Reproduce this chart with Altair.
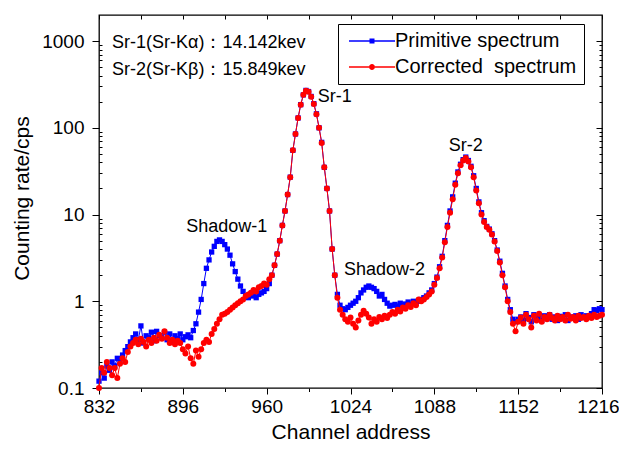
import altair as alt
import pandas as pd

FONT = "Liberation Sans"

channels = list(range(832, 1217, 2))

primitive = [
    0.12, 0.15, 0.13, 0.18, 0.16, 0.20, 0.18, 0.22, 0.20, 0.24,
    0.27, 0.30, 0.34, 0.38, 0.42, 0.36, 0.52, 0.33, 0.40, 0.38,
    0.44, 0.35, 0.45, 0.40, 0.38, 0.44, 0.36, 0.42, 0.34, 0.40,
    0.37, 0.42, 0.36, 0.39, 0.41, 0.38, 0.46, 0.55, 0.75, 1.05,
    1.6, 2.4, 3.0, 3.7, 4.3, 4.9, 5.1, 4.9, 4.5, 4.0,
    3.4, 2.7, 2.2, 1.8, 1.5, 1.3, 1.15, 1.1, 1.2, 1.15,
    1.1, 1.2, 1.25, 1.3, 1.4, 1.6, 2.0, 2.6, 3.5, 5.0,
    7.5, 11, 17, 27, 55, 85, 130, 185, 240, 270,
    262, 230, 190, 145, 100, 68, 35, 20, 11, 4.0,
    2.0, 1.2, 0.9, 0.82, 0.8, 0.85, 0.9, 0.95, 1.0, 1.1,
    1.25, 1.35, 1.45, 1.5, 1.45, 1.4, 1.3, 1.15, 1.2, 1.05,
    0.95, 0.88, 0.9, 0.92, 0.88, 0.95, 0.9, 0.93, 0.98, 0.92,
    1.0, 0.95, 1.0, 1.05, 1.1, 1.15, 1.25, 1.35, 1.6, 1.9,
    2.5, 3.3, 5.0, 7.5, 11, 16, 23, 31, 38, 43,
    46, 42, 36, 28, 20, 14, 10.5, 8.5, 7.3, 6.8,
    6.0, 5.0, 3.9, 2.9, 2.1, 1.5, 1.05, 0.8, 0.62, 0.58,
    0.62, 0.66, 0.6, 0.72, 0.65, 0.58, 0.7, 0.62, 0.66, 0.6,
    0.68, 0.64, 0.7, 0.62, 0.66, 0.6, 0.67, 0.63, 0.7, 0.6,
    0.66, 0.64, 0.68, 0.62, 0.7, 0.65, 0.68, 0.66, 0.72, 0.8,
    0.78, 0.82, 0.8,
]

corrected = [
    0.10, 0.17, 0.15, 0.20, 0.17, 0.14, 0.17, 0.13, 0.19, 0.22,
    0.20, 0.26, 0.30, 0.33, 0.36, 0.32, 0.37, 0.34, 0.30, 0.36,
    0.33, 0.38, 0.35, 0.41, 0.37, 0.45, 0.38, 0.33, 0.36, 0.32,
    0.35, 0.33, 0.28, 0.25, 0.30, 0.22, 0.19, 0.27, 0.23, 0.28,
    0.33, 0.36, 0.34, 0.42, 0.48, 0.55, 0.62, 0.70, 0.72, 0.75,
    0.80, 0.85, 0.90, 0.95, 1.00, 1.05, 1.15, 1.20, 1.25, 1.35,
    1.30, 1.45, 1.50, 1.60, 1.55, 1.80, 2.0, 2.6, 3.5, 5.0,
    7.5, 11, 17, 27, 55, 85, 130, 185, 240, 268,
    260, 228, 188, 143, 100, 67, 35, 20, 11, 4.0,
    2.0, 1.1, 0.8, 0.7, 0.62, 0.58, 0.65, 0.55, 0.5, 0.6,
    0.7, 0.78, 0.72, 0.65, 0.55, 0.62, 0.58, 0.66, 0.62, 0.68,
    0.64, 0.7, 0.75, 0.72, 0.8, 0.76, 0.85, 0.82, 0.9, 0.86,
    0.95, 0.9, 1.05, 1.0, 1.05, 1.12, 1.2, 1.3, 1.55, 1.85,
    2.4, 3.2, 4.8, 7.2, 10.5, 15, 22, 30, 37, 42,
    45, 41, 35, 27, 19, 13.5, 10, 8.2, 7.2, 6.7,
    5.9, 4.9, 3.8, 2.8, 2.0, 1.45, 1.0, 0.75, 0.55, 0.45,
    0.58, 0.65, 0.55, 0.7, 0.62, 0.5, 0.68, 0.6, 0.72, 0.58,
    0.66, 0.62, 0.7, 0.64, 0.6, 0.68, 0.62, 0.66, 0.6, 0.7,
    0.63, 0.66, 0.6, 0.68, 0.64, 0.66, 0.62, 0.68, 0.64, 0.7,
    0.66, 0.68, 0.7,
]

assert len(channels) == len(primitive) == len(corrected)

series_names = ["Primitive spectrum", "Corrected\u00a0 spectrum"]
series_colors = ["#0000ff", "#ff0000"]

x_major = [832, 896, 960, 1024, 1088, 1152, 1216]
x_minor = [864, 928, 992, 1056, 1120, 1184]
x_top = list(range(832, 1217, 32))
y_major = [0.1, 1, 10, 100, 1000]
y_minor = [m * d for d in [0.1, 1, 10, 100] for m in range(2, 10)]

# annotations
ann_left_text = ["Sr-1(Sr-K\u03b1)\uff1a14.142kev", "Sr-2(Sr-K\u03b2)\uff1a15.849kev", "Sr-1"]
ann_left_ch = [842, 842, 999]
ann_left_val = [950, 460, 225]
ann_center_text = ["Sr-2", "Shadow-1", "Shadow-2"]
ann_center_ch = [1112, 929.5, 1050]
ann_center_val = [61, 7.2, 2.3]

df = pd.DataFrame({
    "channel": channels * 2,
    "rate": primitive + corrected,
    "series": [series_names[0]] * len(channels) + [series_names[1]] * len(channels),
})
ann_left = pd.DataFrame({"text": ann_left_text, "channel": ann_left_ch, "rate": ann_left_val})
ann_center = pd.DataFrame({"text": ann_center_text, "channel": ann_center_ch, "rate": ann_center_val})

xscale = alt.Scale(domain=[832, 1216], nice=False, zero=False)
yscale = alt.Scale(type="log", domain=[0.1, 2000], nice=False)

common_axis = dict(domain=False, grid=False, tickColor="black", tickWidth=1,
                   labelFont=FONT, labelColor="black")

ax_x_main = alt.Axis(orient="bottom", values=x_major, format="d", tickSize=6,
                     labelFontSize=19, labelPadding=3, labelFlush=False, labelOverlap=False,
                     labelOffset={"condition": {"test": "datum.value == 1216", "value": -4},
                                  "value": 0},
                     title="Channel address", titleFont=FONT, titleFontSize=21,
                     titleFontWeight="normal", titleColor="black", titleY=50,
                     titleBaseline="alphabetic", **common_axis)
ax_x_minor = alt.Axis(orient="bottom", values=x_minor, tickSize=3.5, labels=False,
                      title=None, **common_axis)
ax_x_top = alt.Axis(orient="top", values=x_top, tickSize=4, offset=-4, labels=False,
                    title=None, **common_axis)
ax_y_main = alt.Axis(orient="left", values=y_major, format="~g", tickSize=7,
                     labelFontSize=19, labelPadding=8, labelFlush=False, labelOverlap=False,
                     title="Counting rate/cps", titleFont=FONT, titleFontSize=21,
                     titleFontWeight="normal", titleColor="black", titleAngle=-90,
                     titleX=-71, titleY=183, titleAlign="center",
                     titleBaseline="alphabetic", **common_axis)
ax_y_minor = alt.Axis(orient="left", values=y_minor, tickSize=3, offset=-3, labels=False,
                      title=None, **common_axis)
ax_y_right = alt.Axis(orient="right", values=y_major, tickSize=6, offset=-6, labels=False,
                      title=None, **common_axis)
ax_y_right_minor = alt.Axis(orient="right", values=y_minor, tickSize=3, offset=-3,
                            labels=False, title=None, **common_axis)


def enc(xaxis, yaxis):
    return dict(
        x=alt.X("channel:Q", scale=xscale, axis=xaxis),
        y=alt.Y("rate:Q", scale=yscale, axis=yaxis),
    )


base = alt.Chart(df)
blue = base.transform_filter(alt.datum.series == series_names[0])
red = base.transform_filter(alt.datum.series == series_names[1])

blue_line = blue.mark_line(color=series_colors[0], strokeWidth=1).encode(**enc(ax_x_main, ax_y_main))
blue_pts = blue.mark_point(shape="square", filled=True, size=28, opacity=1,
                           color=series_colors[0]).encode(**enc(ax_x_minor, ax_y_minor))
red_line = red.mark_line(color=series_colors[1], strokeWidth=1).encode(**enc(ax_x_top, ax_y_right))
red_pts = red.mark_circle(size=36, opacity=1, color=series_colors[1]).encode(
    **enc(None, ax_y_right_minor))

txt_left = alt.Chart(ann_left).mark_text(align="left", baseline="middle", font=FONT,
                                         fontSize=18, color="black").encode(
    text="text:N", **enc(None, None))
txt_center = alt.Chart(ann_center).mark_text(align="center", baseline="middle", font=FONT,
                                             fontSize=18, color="black").encode(
    text="text:N", **enc(None, None))

# legend symbols: line segment with marker, in symbol units (size 100 -> 5 px per unit)
sq_path = ("M-4.6,-0.13L-0.5,-0.13L-0.5,-0.5L0.5,-0.5L0.5,-0.13L4.6,-0.13"
           "L4.6,0.13L0.5,0.13L0.5,0.5L-0.5,0.5L-0.5,0.13L-4.6,0.13Z")
ci_path = ("M-4.6,-0.13L-0.6,-0.13L-0.6,0.13L-4.6,0.13Z"
           "M0.6,-0.13L4.6,-0.13L4.6,0.13L0.6,0.13Z"
           "M-0.6,0A0.6,0.6,0,1,0,0.6,0A0.6,0.6,0,1,0,-0.6,0Z")

legend_props = dict(orient="none", legendX=239, legendY=9, title=None,
                    labelFont=FONT, labelFontSize=20, labelColor="black", labelLimit=400,
                    symbolSize=100, symbolStrokeWidth=0, strokeColor="black",
                    fillColor="white", padding=7, symbolOffset=17, labelOffset=13,
                    rowPadding=6)

legend_layer = alt.Chart(df).transform_filter("false").mark_point(
    filled=True, opacity=1).encode(
    color=alt.Color("series:N", scale=alt.Scale(domain=series_names, range=series_colors),
                    legend=alt.Legend(**legend_props)),
    shape=alt.Shape("series:N", scale=alt.Scale(domain=series_names, range=[sq_path, ci_path]),
                    legend=alt.Legend(**legend_props)),
)

chart = alt.layer(
    blue_line, blue_pts, red_line, red_pts, txt_left, txt_center, legend_layer
).resolve_axis(x="independent", y="independent").properties(
    width=503, height=373,
    autosize=alt.AutoSizeParams(type="none"),
    padding={"left": 91, "top": 7, "right": 17, "bottom": 54},
    background="white",
).configure_view(stroke="black", strokeWidth=1.3)

chart.save("out.html", embed_options={"renderer": "svg", "actions": False})
